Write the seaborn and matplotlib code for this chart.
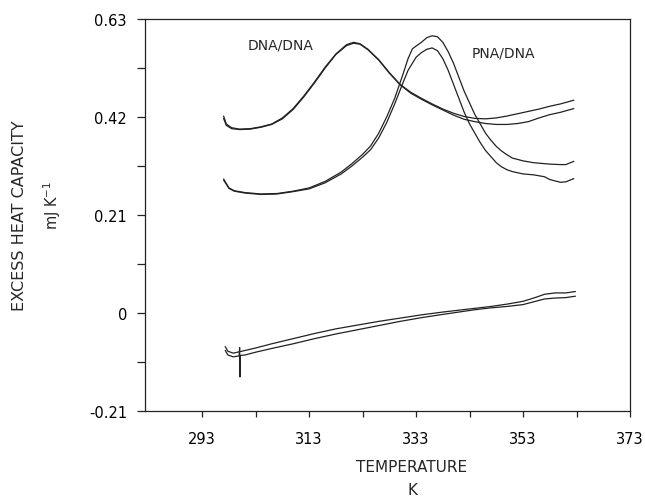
import pandas as pd
import seaborn as sns
import matplotlib.pyplot as plt
from matplotlib.ticker import MultipleLocator, FixedLocator

# DNA/DNA 兩條
dna_t = [297, 297.5, 298.5, 300, 302, 304, 306, 308, 310, 312, 314, 316, 318, 320, 321.3,
         322.5, 324, 326, 328, 330, 332, 334, 336, 338, 340, 342, 344, 346, 348, 350,
         352, 354, 356, 358, 360, 362.5]
dna_a = [0.422, 0.405, 0.397, 0.394, 0.395, 0.399, 0.405, 0.418, 0.438, 0.465, 0.495, 0.527,
         0.555, 0.575, 0.580, 0.577, 0.565, 0.543, 0.515, 0.490, 0.473, 0.460, 0.448, 0.437,
         0.428, 0.421, 0.417, 0.416, 0.418, 0.422, 0.427, 0.432, 0.437, 0.443, 0.448, 0.456]
dna_b = [0.417, 0.402, 0.395, 0.393, 0.394, 0.398, 0.404, 0.416, 0.436, 0.463, 0.493, 0.525,
         0.554, 0.573, 0.578, 0.576, 0.564, 0.542, 0.514, 0.489, 0.471, 0.458, 0.446, 0.435,
         0.424, 0.415, 0.410, 0.406, 0.404, 0.404, 0.406, 0.410, 0.418, 0.425, 0.430, 0.438]

# PNA/DNA 兩條
pna_t = [297, 298, 299, 301, 304, 307, 310, 313, 316, 319, 321, 323, 324.5, 326, 327.5,
         329, 330.5, 331.5, 332.3, 333, 334, 335, 336, 337, 338, 339, 340, 341, 342, 343,
         344, 345, 346, 347, 348, 349, 350, 351, 353, 355, 357, 358, 360, 361, 362.5]
pna_a = [0.287, 0.268, 0.262, 0.258, 0.255, 0.256, 0.261, 0.268, 0.282, 0.302, 0.320, 0.340,
         0.358, 0.385, 0.420, 0.460, 0.510, 0.545, 0.566, 0.572, 0.580, 0.590, 0.594, 0.592,
         0.580, 0.560, 0.535, 0.505, 0.475, 0.450, 0.425, 0.405, 0.385, 0.370, 0.357, 0.347,
         0.339, 0.332, 0.326, 0.322, 0.320, 0.319, 0.318, 0.318, 0.325]
pna_b = [0.285, 0.267, 0.261, 0.257, 0.254, 0.255, 0.260, 0.266, 0.279, 0.298, 0.315, 0.334,
         0.350, 0.375, 0.408, 0.448, 0.492, 0.520, 0.535, 0.548, 0.558, 0.565, 0.568, 0.562,
         0.545, 0.520, 0.490, 0.460, 0.430, 0.405, 0.385, 0.365, 0.348, 0.335, 0.322, 0.313,
         0.307, 0.303, 0.298, 0.296, 0.292, 0.286, 0.280, 0.281, 0.288]

# 基線兩條
base_t = [297.3, 297.8, 298.8, 300, 303, 306, 310, 314, 318, 322, 326, 330, 334, 338,
          341, 344, 347, 350, 353, 355, 357, 359, 361, 362.8]
base_a = [-0.072, -0.082, -0.086, -0.083, -0.075, -0.066, -0.055, -0.044, -0.034, -0.026,
          -0.018, -0.011, -0.004, 0.002, 0.006, 0.010, 0.014, 0.019, 0.025, 0.032, 0.040,
          0.043, 0.043, 0.046]
base_b_t = [297.3, 297.8, 298.8, 299.9, 300.0, 300.05, 300.1, 301, 303, 306, 310, 314, 318,
            322, 326, 330, 334, 338, 341, 344, 347, 350, 353, 355, 357, 359, 361, 362.8]
base_b = [-0.080, -0.090, -0.094, -0.092, -0.074, -0.137, -0.091, -0.090, -0.084, -0.076,
          -0.066, -0.055, -0.045, -0.036, -0.027, -0.018, -0.010, -0.003, 0.002, 0.007,
          0.011, 0.014, 0.018, 0.024, 0.030, 0.032, 0.033, 0.036]

x_ticks = [293, 313, 333, 353, 373]
y_ticks = [-0.21, 0, 0.21, 0.42, 0.63]
y_labels = ["-0.21", "0", "0.21", "0.42", "0.63"]

sns.set_style("ticks")
plt.rcParams["font.family"] = ["DejaVu Sans"]
plt.rcParams["font.size"] = 10.5

fig = plt.figure(figsize=(6.45, 5.02), dpi=100)
ax = fig.add_axes([0.2248, 0.1793, 0.7519, 0.7809])

curves = [(dna_t, dna_a), (dna_t, dna_b), (pna_t, pna_a), (pna_t, pna_b),
          (base_t, base_a), (base_b_t, base_b)]
for t, v in curves:
    sns.lineplot(x=t, y=v, ax=ax, color="#222222", linewidth=0.9, sort=False, estimator=None)

ax.set_xlim(282.3, 373)
ax.set_ylim(-0.21, 0.63)
ax.xaxis.set_major_locator(FixedLocator(x_ticks))
ax.xaxis.set_minor_locator(FixedLocator([303, 323, 343, 363]))
ax.yaxis.set_major_locator(FixedLocator(y_ticks))
ax.set_yticklabels(y_labels)
ax.yaxis.set_minor_locator(FixedLocator([-0.105, 0.105, 0.315, 0.525]))
ax.tick_params(axis="both", which="both", direction="out", width=0.9, colors="#222222",
               labelcolor="black")
ax.tick_params(axis="y", which="both", length=6, pad=7)
ax.tick_params(axis="x", which="both", length=4.5, pad=10)
for s in ax.spines.values():
    s.set_linewidth(0.9)
    s.set_color("#222222")
ax.set_xlabel("")
ax.set_ylabel("")

ax.text(307.6, 0.576, "DNA/DNA", ha="center", va="center", fontsize=10)
ax.text(349.3, 0.559, "PNA/DNA", ha="center", va="center", fontsize=10)

fig.text(20 / 645, 1 - 216 / 502, "EXCESS HEAT CAPACITY", rotation=90,
         ha="center", va="center", fontsize=11.5)
fig.text(52 / 645, 1 - 205 / 502, "mJ K$^{\\mathregular{-1}}$", rotation=90,
         ha="center", va="center", fontsize=10.5)
fig.text(412 / 645, 1 - 468 / 502, "TEMPERATURE", ha="center", va="center", fontsize=11)
fig.text(412 / 645, 1 - 491 / 502, "K", ha="center", va="center", fontsize=11)

plt.savefig("out.png", dpi=100)
